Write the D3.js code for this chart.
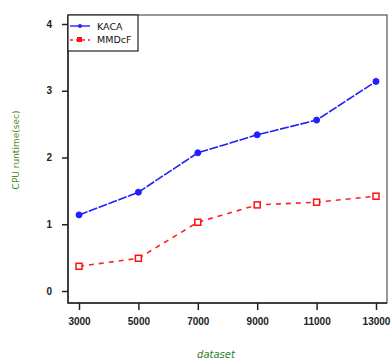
<!DOCTYPE html>
<html>
<head>
<meta charset="utf-8">
<script src="https://cdn.jsdelivr.net/npm/d3@7"></script>
<style>
  body { margin: 0; background: #fff; }
  svg { display: block; font-family: "DejaVu Sans", "Liberation Sans", sans-serif; }
</style>
</head>
<body>
<div id="chart"></div>
<script>
// chart data
const datasets = [3000, 5000, 7000, 9000, 11000, 13000];
const kaca = [1.14, 1.48, 2.07, 2.34, 2.56, 3.14];
const mmdcf = [0.37, 0.49, 1.03, 1.29, 1.33, 1.42];
const yTicks = [0, 1, 2, 3, 4];
const seriesNames = ['KACA', 'MMDcF'];

const width = 392, height = 362;
const margin = {left: 68, top: 15, right: 5, bottom: 59};

let svg = d3.select('#chart').append('svg')
  .attr('width', width)
  .attr('height', height);

let x = d3.scaleLinear()
  .domain([3000, 13000])
  .range([79, 376]);

let y = d3.scaleLinear()
  .domain([0, 4])
  .range([291, 24]);

// frame: light top/right, darker left/bottom axes
svg.append('rect')
  .attr('x', margin.left)
  .attr('y', margin.top)
  .attr('width', width - margin.left - margin.right)
  .attr('height', height - margin.top - margin.bottom)
  .attr('fill', 'none')
  .attr('stroke', '#555')
  .attr('stroke-width', 1.2);
svg.append('path')
  .attr('d', 'M' + margin.left + ',' + margin.top + 'V' + (height - margin.bottom) + 'H' + (width - margin.right))
  .attr('fill', 'none')
  .attr('stroke', '#222')
  .attr('stroke-width', 1.5);

// y axis
let yAxis = svg.append('g')
  .attr('transform', 'translate(' + margin.left + ',0)')
  .call(d3.axisLeft(y).tickValues(yTicks).tickSize(6).tickPadding(10).tickFormat(d3.format('d')));
yAxis.select('.domain').remove();
yAxis.selectAll('line').attr('stroke', '#222').attr('stroke-width', 1.5);
yAxis.selectAll('text').attr('font-size', 10).attr('font-weight', 'bold').attr('fill', '#222');

// x axis
let xAxis = svg.append('g')
  .attr('transform', 'translate(0,' + (height - margin.bottom) + ')')
  .call(d3.axisBottom(x).tickValues(datasets).tickSize(7).tickPadding(8).tickFormat(d3.format('d')));
xAxis.select('.domain').remove();
xAxis.selectAll('line').attr('stroke', '#222').attr('stroke-width', 1.5);
xAxis.selectAll('text').attr('font-size', 10).attr('font-weight', 'bold').attr('fill', '#222');

// axis titles
svg.append('text')
  .attr('transform', 'translate(19,150) rotate(-90)')
  .attr('text-anchor', 'middle')
  .attr('font-size', 9)
  .attr('fill', '#4a8a2a')
  .text('CPU runtime(sec)');

svg.append('text')
  .attr('x', 216)
  .attr('y', 358)
  .attr('text-anchor', 'middle')
  .attr('font-size', 10)
  .attr('font-style', 'italic')
  .attr('fill', '#2e7d1e')
  .text('dataset');

// lines
let line = d3.line()
  .x((d, i) => x(datasets[i]))
  .y(d => y(d));

svg.append('path')
  .datum(kaca)
  .attr('d', line)
  .attr('fill', 'none')
  .attr('stroke', '#2020ff')
  .attr('stroke-width', 1.6)
  .attr('stroke-dasharray', '9,1.5');

svg.append('path')
  .datum(mmdcf)
  .attr('d', line)
  .attr('fill', 'none')
  .attr('stroke', '#ff2020')
  .attr('stroke-width', 1.6)
  .attr('stroke-dasharray', '5,5');

// markers
svg.selectAll('.kaca-pt')
  .data(kaca)
  .enter().append('circle')
  .attr('cx', (d, i) => x(datasets[i]))
  .attr('cy', d => y(d))
  .attr('r', 3)
  .attr('fill', '#2020ff')
  .attr('stroke', '#2020ff');

svg.selectAll('.mmdcf-pt')
  .data(mmdcf)
  .enter().append('rect')
  .attr('x', (d, i) => x(datasets[i]) - 3)
  .attr('y', d => y(d) - 3)
  .attr('width', 6)
  .attr('height', 6)
  .attr('fill', '#fff')
  .attr('stroke', '#ff1010')
  .attr('stroke-width', 1.5);

// legend
let legend = svg.append('g');
legend.append('rect')
  .attr('x', margin.left)
  .attr('y', margin.top)
  .attr('width', 70)
  .attr('height', 36)
  .attr('fill', '#fff')
  .attr('stroke', '#222')
  .attr('stroke-width', 1.2);

legend.append('line')
  .attr('x1', 70).attr('x2', 90).attr('y1', 26).attr('y2', 26)
  .attr('stroke', '#2020ff').attr('stroke-width', 1.4);
legend.append('circle')
  .attr('cx', 80).attr('cy', 26).attr('r', 2)
  .attr('fill', '#2020ff');

legend.append('line')
  .attr('x1', 70).attr('x2', 90).attr('y1', 40).attr('y2', 40)
  .attr('stroke', '#ff2020').attr('stroke-width', 1.4)
  .attr('stroke-dasharray', '3,3');
legend.append('rect')
  .attr('x', 77).attr('y', 37).attr('width', 5).attr('height', 5)
  .attr('fill', '#ff1010');

legend.selectAll('.lbl')
  .data(seriesNames)
  .enter().append('text')
  .attr('x', 97)
  .attr('y', (d, i) => 30 + i * 13)
  .attr('font-size', 9.5)
  .attr('fill', '#111')
  .text(d => d);
</script>
</body>
</html>
